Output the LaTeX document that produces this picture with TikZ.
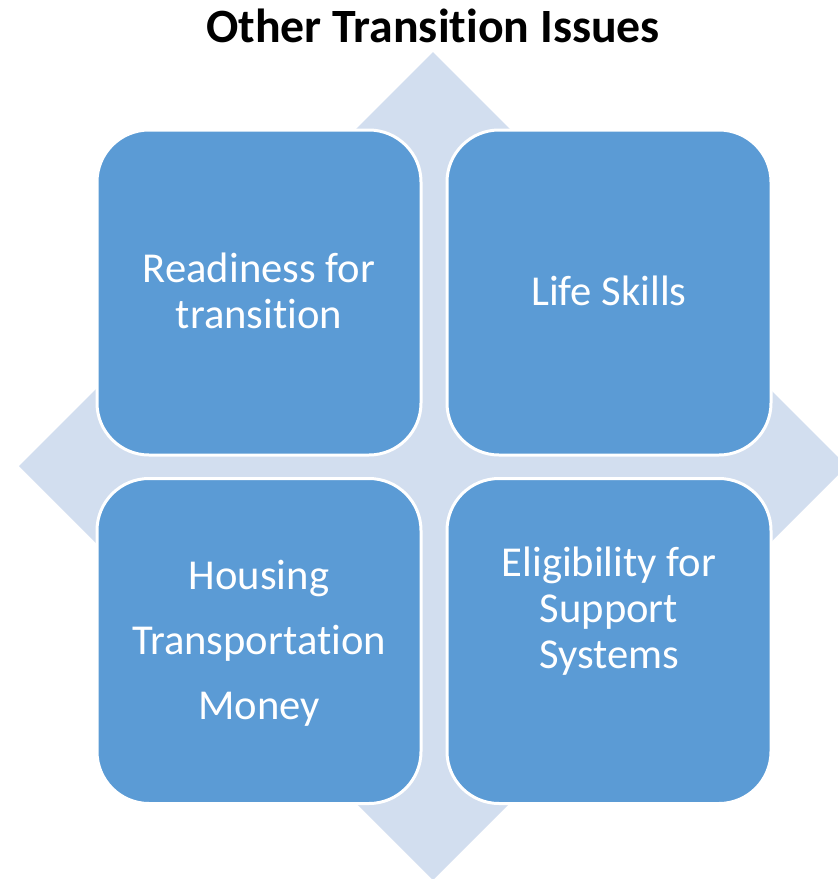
\documentclass[tikz,border=0pt]{standalone}
\usepackage{fontspec}
\setmainfont{Carlito}[Ligatures=NoCommon]
\definecolor{tilefill}{HTML}{5B9BD5}
\definecolor{backdiamond}{HTML}{D2DEEF}
\tikzset{
  tile/.style={draw=white, line width=3pt, fill=tilefill, rounded corners=52pt,
    minimum width=324pt, minimum height=325pt, inner sep=0pt},
  tiletext/.style={text=white, align=center, font=\fontsize{42.6}{46}\selectfont},
}
\begin{document}
\begin{tikzpicture}[x=1pt,y=-1pt]
  \useasboundingbox (0,0) rectangle (838,879);
  \fill[white] (0,0) rectangle (838,879);
  \begin{scope}
    \clip (0,0) rectangle (838,879);
    % background diamond
    \fill[backdiamond] (433,52) -- (847,466) -- (433,880) -- (19,466) -- cycle;
  \end{scope}
  % title
  \node (title) at (433,26) {\fontsize{47.8}{56}\selectfont\bfseries Other Transition Issues};
  % four tiles
  \node[tile] (rd) at (259,292.5) {};
  \node[tile] (ls) at (609,292.5) {};
  \node[tile] (hs) at (259,641) {};
  \node[tile] (el) at (609,641) {};
  % tile labels
  \node[tiletext] (rdt) at (259,290.5) {Readiness for\\transition};
  \node[tiletext] (lst) at (609,290.5) {Life Skills};
  \node[tiletext, font=\fontsize{42.6}{65}\selectfont] (hst) at (259,643.5) {Housing\\Transportation\\Money};
  \node[tiletext] (elt) at (609,611) {Eligibility for\\Support\\Systems};
\end{tikzpicture}
\end{document}
